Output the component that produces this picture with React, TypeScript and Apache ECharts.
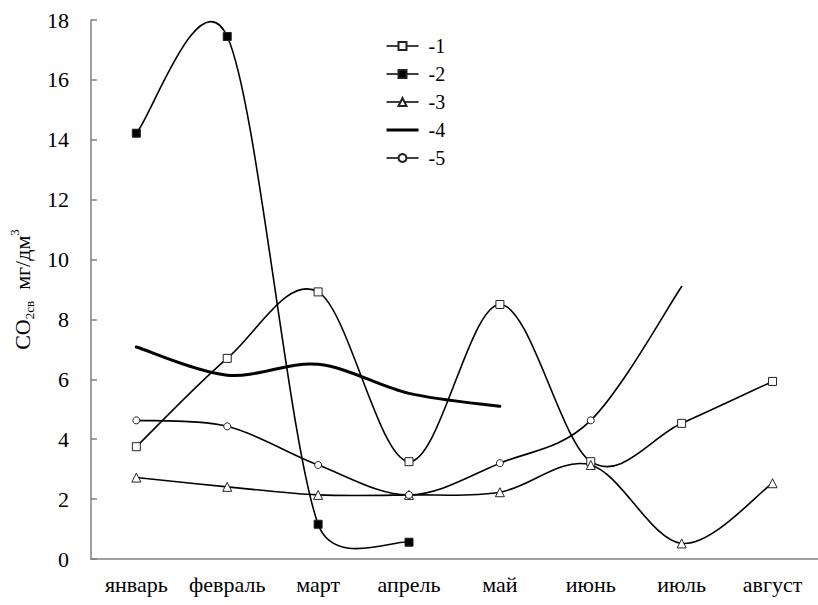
import React, { useEffect, useRef } from "react";
import * as echarts from "echarts";

const months = ["январь", "февраль", "март", "апрель", "май", "июнь", "июль", "август"];
const yMin = 0;
const yMax = 18;
const yStep = 2;

const seriesNames = ["-1", "-2", "-3", "-4", "-5"];
const s1 = [3.75, 6.7, 8.92, 3.25, 8.5, 3.25, 4.53, 5.93];
const s2 = [14.22, 17.45, 1.16, 0.56];
const s3 = [2.72, 2.41, 2.14, 2.14, 2.23, 3.14, 0.52, 2.53];
const s4 = [7.08, 6.14, 6.5, 5.53, 5.1];
const s5 = [4.63, 4.43, 3.14, 2.14, 3.2, 4.63, 9.1];

const FONT = "'Liberation Serif', 'DejaVu Serif', serif";

function excelPath(pts: number[][]): string {
  const n = pts.length;
  if (n < 2) return "";
  const d = (a: number[], b: number[]) => Math.hypot(a[0] - b[0], a[1] - b[1]);
  let s = `M${pts[0][0]},${pts[0][1]}`;
  for (let i = 0; i < n - 1; i++) {
    const p0 = pts[Math.max(i - 1, 0)];
    const p1 = pts[i];
    const p2 = pts[i + 1];
    const p3 = pts[Math.min(i + 2, n - 1)];
    const d12 = d(p1, p2);
    const d02 = d(p0, p2);
    const d13 = d(p1, p3);
    const f0 = d02 / 6 < d12 / 2 ? 1 / 6 : d12 / (2 * d02);
    const f1 = d13 / 6 < d12 / 2 ? 1 / 6 : d12 / (2 * d13);
    const c1 = [p1[0] + (p2[0] - p0[0]) * f0, p1[1] + (p2[1] - p0[1]) * f0];
    const c2 = [p2[0] - (p3[0] - p1[0]) * f1, p2[1] - (p3[1] - p1[1]) * f1];
    s += ` C${c1[0]},${c1[1]} ${c2[0]},${c2[1]} ${p2[0]},${p2[1]}`;
  }
  return s;
}

function curveSeries(vals: number[], width: number) {
  return {
    type: "custom",
    coordinateSystem: "cartesian2d",
    silent: true,
    z: 2,
    clip: false,
    data: [[0, vals[0]]],
    renderItem: (_params: any, api: any) => {
      const pts = vals.map((v, i) => api.coord([i, v]));
      return {
        type: "path",
        shape: { pathData: excelPath(pts) },
        style: { fill: "none", stroke: "#000", lineWidth: width, lineCap: "round", lineJoin: "round" },
      };
    },
  };
}

function markerSeries(name: string, vals: any[], symbol: string, size: number, fill: string) {
  return {
    type: "line",
    name,
    data: vals,
    symbol,
    symbolSize: size,
    showSymbol: symbol !== "none",
    showAllSymbol: true,
    z: 5,
    silent: true,
    lineStyle: { opacity: 0, width: 1.5, color: "#000" },
    itemStyle: { color: fill, borderColor: "#222", borderWidth: 1, opacity: 1 },
    emphasis: { disabled: true },
  };
}

export default function App() {
  const ref = useRef<HTMLDivElement>(null);
  useEffect(() => {
    if (!ref.current) return;
    const chart = echarts.init(ref.current, null, { renderer: "svg" });
    const s5data: any[] = s5.map((v, i) => (i === s5.length - 1 ? { value: v, symbol: "none" } : v));
    chart.setOption({
      animation: false,
      backgroundColor: "#fff",
      grid: { left: 89, right: -4, top: 20, bottom: 46 },
      legend: {
        orient: "vertical",
        left: 380,
        top: 31,
        itemWidth: 32,
        itemHeight: 10,
        itemGap: 8,
        selectedMode: false,
        formatter: (n: string) => " " + n,
        textStyle: { fontSize: 20, fontFamily: FONT, color: "#000" },
        lineStyle: { color: "#000", width: 1.5, opacity: 1 },
        data: seriesNames.map((n, i) =>
          i === 3
            ? {
                name: n,
                lineStyle: { color: "#000", width: 3, opacity: 1 },
                itemStyle: { opacity: 0, color: "transparent", borderWidth: 0 },
              }
            : { name: n }
        ),
      },
      xAxis: {
        type: "category",
        data: months,
        boundaryGap: true,
        axisLine: { lineStyle: { color: "#808080", width: 1.5 } },
        axisTick: { inside: true, length: 6, interval: 0, lineStyle: { color: "#808080", width: 1.5 } },
        axisLabel: { interval: 0, fontSize: 22, fontFamily: FONT, color: "#000", margin: 14 },
        splitLine: { show: false },
      },
      yAxis: {
        type: "value",
        min: yMin,
        max: yMax,
        interval: yStep,
        name: "{a|CO}{b|2св}{a|  мг/дм}{c|3}",
        nameLocation: "middle",
        nameGap: 44,
        nameRotate: 90,
        nameTextStyle: {
          fontFamily: FONT,
          color: "#000",
          rich: {
            a: { fontSize: 22, fontFamily: FONT, color: "#000", lineHeight: 28 },
            b: { fontSize: 13, fontFamily: FONT, color: "#000", lineHeight: 13, verticalAlign: "bottom" },
            c: { fontSize: 13, fontFamily: FONT, color: "#000", lineHeight: 13, verticalAlign: "top" },
          },
        },
        axisLine: { show: true, lineStyle: { color: "#808080", width: 1.5 } },
        axisTick: { show: true, inside: true, length: 6, lineStyle: { color: "#808080", width: 1.5 } },
        axisLabel: { fontSize: 22, fontFamily: FONT, color: "#000", margin: 22 },
        splitLine: { show: false },
      },
      series: [
        curveSeries(s1, 1.6),
        curveSeries(s2, 1.6),
        curveSeries(s3, 1.6),
        curveSeries(s4, 3),
        curveSeries(s5, 1.6),
        markerSeries("-1", s1, "rect", 8, "#fff"),
        markerSeries("-2", s2, "rect", 8, "#000"),
        markerSeries("-3", s3, "triangle", 9, "#fff"),
        markerSeries("-4", s4, "none", 0, "#000"),
        markerSeries("-5", s5data, "circle", 7, "#fff"),
      ],
    });
    return () => chart.dispose();
  }, []);
  return <div ref={ref} style={{ position: "fixed", left: 0, top: 0, width: 818, height: 605 }} />;
}
